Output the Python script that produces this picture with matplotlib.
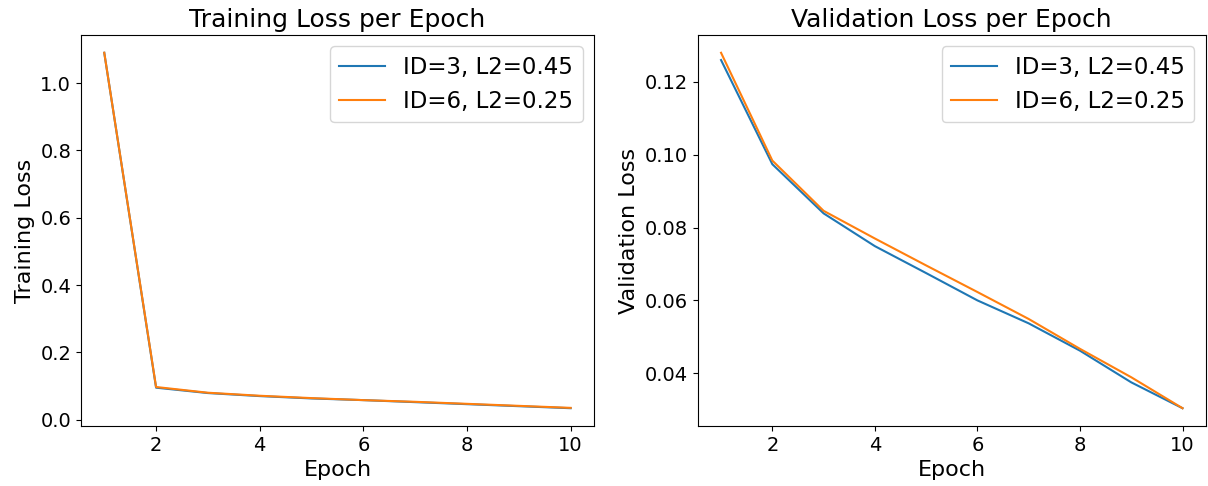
import numpy as np
import matplotlib
matplotlib.use('Agg')
import matplotlib.pyplot as plt

# data
epochs = np.arange(1, 11)
train_id3 = [1.090, 0.095, 0.079, 0.070, 0.063, 0.058, 0.052, 0.046, 0.040, 0.034]
train_id6 = [1.090, 0.097, 0.080, 0.071, 0.064, 0.058, 0.053, 0.047, 0.041, 0.035]
val_id3 = [0.1260, 0.0974, 0.0839, 0.0749, 0.0675, 0.0600, 0.0537, 0.0462, 0.0375, 0.0304]
val_id6 = [0.1280, 0.0984, 0.0846, 0.0770, 0.0696, 0.0623, 0.0549, 0.0467, 0.0389, 0.0304]
labels = ['ID=3, L2=0.45', 'ID=6, L2=0.25']

fig = plt.figure(figsize=(12.08, 4.86), dpi=100)
ax1 = fig.add_axes([0.067, 0.1235, 0.4247, 0.8045])
ax2 = fig.add_axes([0.5778, 0.1235, 0.4202, 0.8045])

ax1.plot(epochs, train_id3, label=labels[0])
ax1.plot(epochs, train_id6, label=labels[1])
ax1.set_title('Training Loss per Epoch', fontsize=18)
ax1.set_xlabel('Epoch', fontsize=16)
ax1.set_ylabel('Training Loss', fontsize=16)
ax1.legend(fontsize=16.5, loc='upper right')

ax2.plot(epochs, val_id3, label=labels[0])
ax2.plot(epochs, val_id6, label=labels[1])
ax2.set_title('Validation Loss per Epoch', fontsize=18)
ax2.set_xlabel('Epoch', fontsize=16)
ax2.set_ylabel('Validation Loss', fontsize=16)
ax2.legend(fontsize=16.5, loc='upper right')

for ax in (ax1, ax2):
    ax.tick_params(labelsize=14)

fig.savefig('out.png', dpi=100)
